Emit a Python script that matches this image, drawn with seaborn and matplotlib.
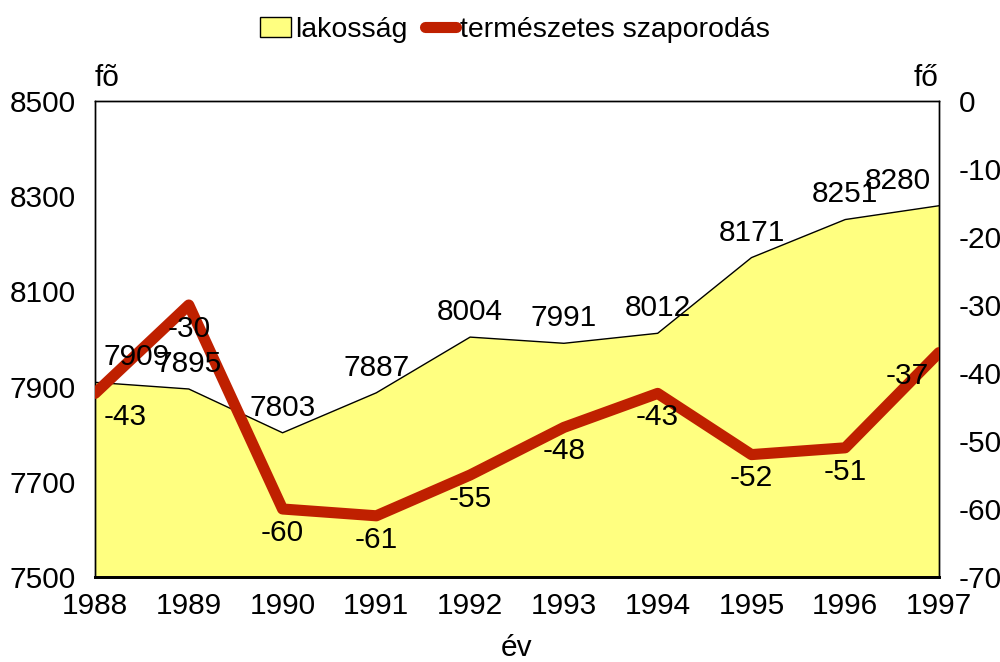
import numpy as np
import pandas as pd
import matplotlib
matplotlib.use("Agg")
import matplotlib.pyplot as plt
from matplotlib.patches import Patch
from matplotlib.lines import Line2D
import seaborn as sns

years = [1988, 1989, 1990, 1991, 1992, 1993, 1994, 1995, 1996, 1997]
lakossag = [7909, 7895, 7803, 7887, 8004, 7991, 8012, 8171, 8251, 8280]
szaporodas = [-43, -30, -60, -61, -55, -48, -43, -52, -51, -37]

df = pd.DataFrame({"ev": years, "lakossag": lakossag, "szaporodas": szaporodas})

sns.set_style("white")
plt.rcParams["font.family"] = ["Liberation Sans", "DejaVu Sans"]
plt.rcParams["axes.unicode_minus"] = False
plt.rcParams["text.color"] = "black"
plt.rcParams["xtick.color"] = "black"
plt.rcParams["ytick.color"] = "black"
plt.rcParams["axes.labelcolor"] = "black"

fs = 21.5
yellow = "#FFFF80"
red = "#BF2000"

fig = plt.figure(figsize=(10, 6.62), dpi=100)
ax = fig.add_axes([0.095, 0.1284, 0.844, 0.719])
ax2 = ax.twinx()

# population area (left axis)
ax.fill_between(df["ev"], 7500, df["lakossag"], color=yellow, zorder=1)
sns.lineplot(data=df, x="ev", y="lakossag", ax=ax, color="black", lw=1, zorder=2)
ax.set_xlim(1988, 1997)
ax.set_ylim(7500, 8500)
ax.set_yticks(np.arange(7500, 8501, 200))
ax.set_xticks(years)

# natural increase line (right axis)
sns.lineplot(data=df, x="ev", y="szaporodas", ax=ax2, color=red, lw=8,
             solid_capstyle="round", zorder=3)
ax2.set_ylim(-70, 0)
ax2.set_yticks(np.arange(-70, 1, 10))
ax2.set_xlim(1988, 1997)

for a in (ax, ax2):
    a.set_xlabel("")
    a.set_ylabel("")
    a.tick_params(length=0, labelsize=fs, colors="black")
    for s in a.spines.values():
        s.set_color("black")
        s.set_linewidth(1)
    a.spines["bottom"].set_linewidth(2)
ax.tick_params(axis="y", pad=14)
ax2.tick_params(axis="y", pad=14)
ax.tick_params(axis="x", pad=11)
ax.set_xlabel("év", fontsize=fs, labelpad=10)

# data labels
for i, (x, v) in enumerate(zip(years, lakossag)):
    dx = 30 if i == 0 else (-30 if i == len(years) - 1 else 0)
    ax2.annotate(str(v), (x, v), xycoords=ax.transData, xytext=(dx, 8),
                 textcoords="offset points", ha="center", va="bottom",
                 fontsize=fs, zorder=5)
for i, (x, v) in enumerate(zip(years, szaporodas)):
    dx = 22 if i == 0 else (-23 if i == len(years) - 1 else 0)
    ax2.annotate(str(v), (x, v), xytext=(dx, -7),
                 textcoords="offset points", ha="center", va="top",
                 fontsize=fs, zorder=5)

ax.text(0, 1.02, "fõ", transform=ax.transAxes, ha="left", va="bottom", fontsize=fs)
ax.text(1, 1.02, "fő", transform=ax.transAxes, ha="right", va="bottom", fontsize=fs)

handles = [Patch(facecolor=yellow, edgecolor="black", lw=1),
           Line2D([], [], color=red, lw=8, solid_capstyle="round")]
fig.legend(handles, ["lakosság", "természetes szaporodás"], loc="center",
           bbox_to_anchor=(0.515, 0.955), ncol=2, frameon=False, fontsize=20.5,
           handlelength=1.1, handletextpad=0.15, columnspacing=0.6)

fig.savefig("out.png", dpi=100)
